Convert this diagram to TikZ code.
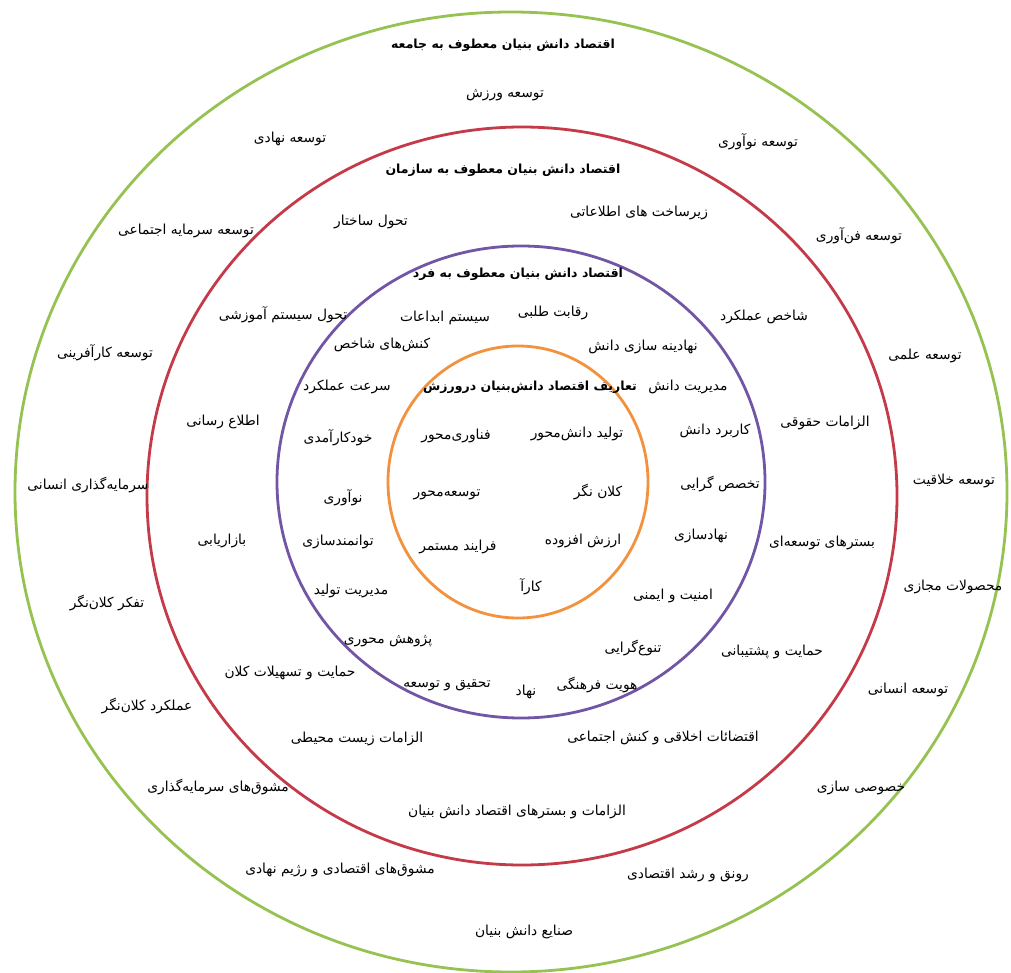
\documentclass[tikz,border=0pt]{standalone}
\usepackage{fontspec}
\newfontfamily\arabicfont[Script=Arabic]{DejaVu Sans}
\TeXXeTstate=1
\newcommand{\fa}[1]{\beginR #1\endR}
\usetikzlibrary{positioning}
\definecolor{ringgreen}{RGB}{150,194,82}
\definecolor{ringred}{RGB}{196,58,72}
\definecolor{ringpurple}{RGB}{114,86,166}
\definecolor{ringorange}{RGB}{242,146,62}

\begin{document}
\begin{tikzpicture}[x=1pt,y=-1pt,
  ring/.style={line width=2.8pt},
  lbl/.style={font=\arabicfont\fontsize{13.8}{16}\selectfont,inner sep=1pt},
  head/.style={lbl,font=\arabicfont\bfseries\fontsize{12.5}{15}\selectfont}]
\useasboundingbox (0,0) rectangle (1011,973);
% the four rings
\draw[ring,ringgreen] (511,492) ellipse [x radius=496pt, y radius=480pt];
\draw[ring,ringred] (522,496) ellipse [x radius=375pt, y radius=369pt];
\draw[ring,ringpurple] (521,482) ellipse [x radius=244pt, y radius=236pt];
\draw[ring,ringorange] (518,482) ellipse [x radius=130pt, y radius=136pt];

% society ring
\node[head] (soc) at (503,45) {\fa{اقتصاد دانش بنیان معطوف به جامعه}};
\node[lbl] (s1) at (505,95) {\fa{توسعه ورزش}};
\node[lbl] (s2) at (290,139) {\fa{توسعه نهادی}};
\node[lbl] (s3) at (758,142) {\fa{توسعه نوآوری}};
\node[lbl] (s4) at (186,231) {\fa{توسعه سرمایه اجتماعی}};
\node[lbl] (s5) at (859,236) {\fa{توسعه فن‌آوری}};
\node[lbl] (s6) at (105,353) {\fa{توسعه کارآفرینی}};
\node[lbl] (s7) at (925,356) {\fa{توسعه علمی}};
\node[lbl] (s8) at (88,485) {\fa{سرمایه‌گذاری انسانی}};
\node[lbl] (s9) at (954,481) {\fa{توسعه خلاقیت}};
\node[lbl] (s10) at (107,603) {\fa{تفکر کلان‌نگر}};
\node[lbl] (s11) at (953,587) {\fa{محصولات مجازی}};
\node[lbl] (s12) at (147,706) {\fa{عملکرد کلان‌نگر}};
\node[lbl] (s13) at (908,690) {\fa{توسعه انسانی}};
\node[lbl] (s14) at (218,787) {\fa{مشوق‌های سرمایه‌گذاری}};
\node[lbl] (s15) at (861,788) {\fa{خصوصی سازی}};
\node[lbl] (s16) at (340,870) {\fa{مشوق‌های اقتصادی و رژیم نهادی}};
\node[lbl] (s17) at (688,875) {\fa{رونق و رشد اقتصادی}};
\node[lbl] (s18) at (524,932) {\fa{صنایع دانش بنیان}};

% organisation ring
\node[head] (org) at (503,170) {\fa{اقتصاد دانش بنیان معطوف به سازمان}};
\node[lbl] (o1) at (371,222) {\fa{تحول ساختار}};
\node[lbl] (o2) at (639,213) {\fa{زیرساخت های اطلاعاتی}};
\node[lbl] (o3) at (283,315) {\fa{تحول سیستم آموزشی}};
\node[lbl] (o4) at (764,317) {\fa{شاخص عملکرد}};
\node[lbl] (o5) at (223,422) {\fa{اطلاع رسانی}};
\node[lbl] (o6) at (825,423) {\fa{الزامات حقوقی}};
\node[lbl] (o7) at (222,541) {\fa{بازاریابی}};
\node[lbl] (o8) at (822,543) {\fa{بسترهای توسعه‌ای}};
\node[lbl] (o9) at (290,673) {\fa{حمایت و تسهیلات کلان}};
\node[lbl] (o10) at (772,652) {\fa{حمایت و پشتیبانی}};
\node[lbl] (o11) at (357,739) {\fa{الزامات زیست محیطی}};
\node[lbl] (o12) at (663,738) {\fa{اقتضائات اخلاقی و کنش اجتماعی}};
\node[lbl] (o13) at (517,812) {\fa{الزامات و بسترهای اقتصاد دانش بنیان}};

% individual ring
\node[head] (ind) at (518,274) {\fa{اقتصاد دانش بنیان معطوف به فرد}};
\node[lbl] (i1) at (445,318) {\fa{سیستم ابداعات}};
\node[lbl] (i2) at (553,313) {\fa{رقابت طلبی}};
\node[lbl] (i3) at (382,345) {\fa{کنش‌های شاخص}};
\node[lbl] (i4) at (643,347) {\fa{نهادینه سازی دانش}};
\node[lbl] (i5) at (347,387) {\fa{سرعت عملکرد}};
\node[lbl] (i6) at (688,387) {\fa{مدیریت دانش}};
\node[lbl] (i7) at (338,438) {\fa{خودکارآمدی}};
\node[lbl] (i8) at (715,431) {\fa{کاربرد دانش}};
\node[lbl] (i9) at (343,498) {\fa{نوآوری}};
\node[lbl] (i10) at (720,484) {\fa{تخصص گرایی}};
\node[lbl] (i11) at (338,542) {\fa{توانمندسازی}};
\node[lbl] (i12) at (701,536) {\fa{نهادسازی}};
\node[lbl] (i13) at (351,591) {\fa{مدیریت تولید}};
\node[lbl] (i14) at (673,596) {\fa{امنیت و ایمنی}};
\node[lbl] (i15) at (388,641) {\fa{پژوهش محوری}};
\node[lbl] (i16) at (633,648) {\fa{تنوع‌گرایی}};
\node[lbl] (i17) at (447,685) {\fa{تحقیق و توسعه}};
\node[lbl] (i18) at (526,692) {\fa{نهاد}};
\node[lbl] (i19) at (597,685) {\fa{هویت فرهنگی}};

% sport core
\node[head] (core) at (530,387) {\fa{تعاریف اقتصاد دانش‌بنیان درورزش}};
\node[lbl] (c1) at (456,436) {\fa{فناوری‌محور}};
\node[lbl] (c2) at (577,434) {\fa{تولید دانش‌محور}};
\node[lbl] (c3) at (447,495) {\fa{توسعه‌محور}};
\node[lbl] (c4) at (598,492) {\fa{کلان نگر}};
\node[lbl] (c5) at (458,547) {\fa{فرایند مستمر}};
\node[lbl] (c6) at (583,541) {\fa{ارزش افزوده}};
\node[lbl] (c7) at (531,587) {\fa{کارآ}};
\end{tikzpicture}
\end{document}
